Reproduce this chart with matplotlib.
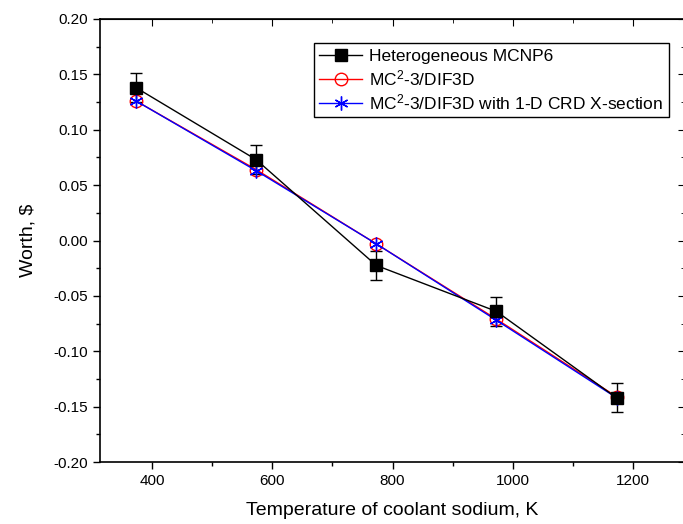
import matplotlib.pyplot as plt
from matplotlib.ticker import MultipleLocator

plt.rcParams['font.family'] = ['Liberation Sans', 'DejaVu Sans']
plt.rcParams['mathtext.default'] = 'regular'

# data
temps = [373, 573, 773, 973, 1173]
mcnp = [0.138, 0.073, -0.0225, -0.064, -0.142]
mcnp_err = [0.013, 0.013, 0.013, 0.013, 0.013]
mc2 = [0.126, 0.064, -0.003, -0.071, -0.141]
mc2_crd = [0.126, 0.063, -0.003, -0.072, -0.142]

fig = plt.figure(figsize=(6.83, 5.24), dpi=100)
ax = fig.add_axes([100/683, 62/524, 585/683, 443/524])

h1 = ax.errorbar(temps, mcnp, yerr=mcnp_err, color='black', marker='s', markersize=8,
                 linewidth=1, capsize=4, elinewidth=1, capthick=1,
                 label='Heterogeneous MCNP6')
h2, = ax.plot(temps, mc2, color='red', marker='o', markersize=9, markerfacecolor='none',
              linewidth=1, label=r'MC$^{2}$-3/DIF3D')
h3, = ax.plot(temps, mc2_crd, color='blue', marker=(6, 2, 0), markersize=10, linewidth=1,
              markeredgewidth=1,
              label=r'MC$^{2}$-3/DIF3D with 1-D CRD X-section')

ax.set_xlim(313, 1287)
ax.set_ylim(-0.20, 0.20)
ax.xaxis.set_major_locator(MultipleLocator(200))
ax.xaxis.set_minor_locator(MultipleLocator(100))
ax.yaxis.set_major_locator(MultipleLocator(0.05))
ax.yaxis.set_minor_locator(MultipleLocator(0.025))
ax.yaxis.set_major_formatter(plt.FormatStrFormatter('%.2f'))
ax.tick_params(which='major', direction='out', length=5, width=1, labelsize=11)
ax.tick_params(which='minor', direction='out', length=3, width=1)

top = ax.secondary_xaxis('top')
top.xaxis.set_major_locator(MultipleLocator(200))
top.xaxis.set_minor_locator(MultipleLocator(100))
top.tick_params(which='major', direction='in', length=5, labeltop=False)
top.tick_params(which='minor', direction='in', length=3)
right = ax.secondary_yaxis('right')
right.yaxis.set_major_locator(MultipleLocator(0.05))
right.yaxis.set_minor_locator(MultipleLocator(0.025))
right.tick_params(which='major', direction='in', length=5, labelright=False)
right.tick_params(which='minor', direction='in', length=3)

for s in ax.spines.values():
    s.set_linewidth(1.2)

ax.set_xlabel('Temperature of coolant sodium, K', fontsize=14, labelpad=10)
ax.set_ylabel(r'Worth, \$', fontsize=14, labelpad=12)

# legend shows only line + marker for the MCNP series
leg = ax.legend([h1.lines[0], h2, h3], ['Heterogeneous MCNP6', h2.get_label(), h3.get_label()],
                loc='upper right', bbox_to_anchor=(0.972, 0.945), fontsize=12.5,
                frameon=True, fancybox=False, edgecolor='black', framealpha=1,
                handlelength=2.5, handletextpad=0.4, borderaxespad=0,
                borderpad=0.3, labelspacing=0.25)
leg.get_frame().set_linewidth(1)

fig.savefig('out.png', dpi=100)
